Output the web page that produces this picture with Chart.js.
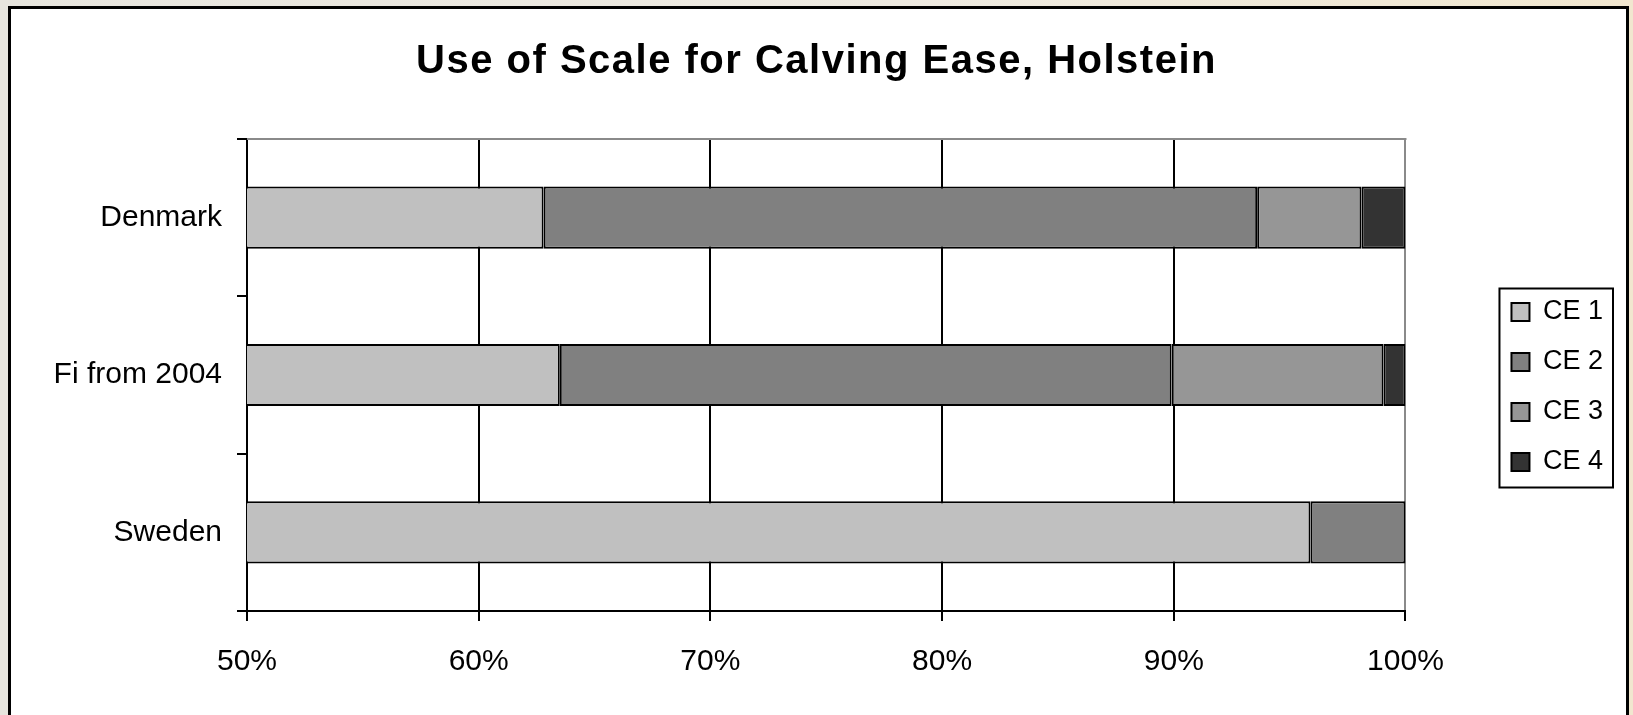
<!DOCTYPE html>
<html>
<head>
<meta charset="utf-8">
<title>Use of Scale for Calving Ease, Holstein</title>
<script src="https://cdn.jsdelivr.net/npm/chart.js@4.4.1/dist/chart.umd.min.js"></script>
<style>
    html, body { margin: 0; padding: 0; overflow: hidden; }
    body {
        width: 1633px;
        height: 715px;
        position: relative;
        background: linear-gradient(to right, #e7e5de, #eeeae1 55%, #f1e7cf);
    }
    .frame {
        position: absolute;
        left: 8px;
        top: 6px;
        width: 1621px;
        height: 780px;
        box-sizing: border-box;
        border: 3px solid #000;
        background: #fff;
    }
    .holder { position: absolute; left: 0; top: 0; width: 1633px; height: 715px; }
</style>
</head>
<body>
<div class="frame"></div>
<div class="holder"><canvas id="calvingChart"></canvas></div>
<script>
const countries = ['Denmark', 'Fi from 2004', 'Sweden'];
const seriesNames = ['CE 1', 'CE 2', 'CE 3', 'CE 4'];
const ce1 = [62.8, 63.5, 95.9];
const ce2 = [30.8, 26.4, 4.1];
const ce3 = [4.5, 9.15, 0];
const ce4 = [1.9, 0.95, 0];
const percentTicks = [50, 60, 70, 80, 90, 100];

const fills = ['#c0c0c0', '#808080', '#969696', '#333333'];

Chart.defaults.font.family = '"Liberation Sans", Arial, sans-serif';
Chart.defaults.color = '#000';

// grey top edge of the plot area (the right edge is the 100% grid line)
const plotFrame = {
    id: 'plotFrame',
    beforeDatasetsDraw(chart) {
        const { ctx, chartArea } = chart;
        ctx.save();
        ctx.strokeStyle = '#8a8a8a';
        ctx.lineWidth = 2;
        ctx.beginPath();
        ctx.moveTo(chartArea.left, chartArea.top);
        ctx.lineTo(chartArea.right + 1, chartArea.top);
        ctx.stroke();
        ctx.restore();
    }
};

// box around the legend items
const legendBorder = {
    id: 'legendBorder',
    afterDraw(chart) {
        const boxes = chart.legend && chart.legend.legendHitBoxes;
        if (!boxes || !boxes.length) return;
        const left = Math.min(...boxes.map(b => b.left)) - 12;
        const right = Math.max(...boxes.map(b => b.left + b.width)) + 10;
        const top = Math.min(...boxes.map(b => b.top)) - 10;
        const bottom = Math.max(...boxes.map(b => b.top + b.height)) + 12;
        const ctx = chart.ctx;
        ctx.save();
        ctx.strokeStyle = '#000';
        ctx.lineWidth = 2;
        ctx.strokeRect(left, top, right - left, bottom - top);
        ctx.restore();
    }
};

// slightly spaced-out letters for the title
const titleSpacing = {
    id: 'titleSpacing',
    afterInit(chart) {
        const block = chart.titleBlock;
        if (!block) return;
        const draw = block.draw;
        block.draw = function (area) {
            chart.ctx.letterSpacing = '1.5px';
            draw.call(this, area);
            chart.ctx.letterSpacing = '0px';
        };
    }
};

const series = [ce1, ce2, ce3, ce4];

new Chart(document.getElementById('calvingChart'), {
    type: 'bar',
    data: {
        labels: countries,
        datasets: series.map((values, i) => ({
            label: seriesNames[i],
            data: values,
            backgroundColor: fills[i],
            borderColor: '#000',
            borderWidth: 2,
            borderSkipped: false
        }))
    },
    options: {
        indexAxis: 'y',
        responsive: true,
        maintainAspectRatio: false,
        animation: false,
        layout: { padding: { left: 20, right: 20, top: 0, bottom: 12 } },
        datasets: {
            bar: { barPercentage: 0.395, categoryPercentage: 1 }
        },
        scales: {
            x: {
                stacked: true,
                min: percentTicks[0],
                max: percentTicks[percentTicks.length - 1],
                afterBuildTicks: scale => {
                    scale.ticks = percentTicks.map(v => ({ value: v }));
                },
                grid: {
                    color: ctx => (ctx.tick && ctx.tick.value === 100 ? '#8a8a8a' : '#000'),
                    tickColor: '#000',
                    lineWidth: 2,
                    tickLength: 10
                },
                border: { color: '#000', width: 2 },
                ticks: {
                    color: '#000',
                    padding: 23,
                    font: { size: 30 },
                    callback: v => v + '%'
                }
            },
            y: {
                stacked: true,
                grid: {
                    offset: true,
                    drawOnChartArea: false,
                    color: '#000',
                    lineWidth: 2,
                    tickLength: 10
                },
                border: { color: '#000', width: 2 },
                ticks: { color: '#000', padding: 15, font: { size: 30 } },
                afterFit: scale => { scale.width = 227; }
            },
            // empty axis that keeps the legend away from the plot
            gap: {
                type: 'category',
                position: 'right',
                labels: [],
                grid: { display: false },
                border: { display: false },
                ticks: { display: false },
                afterFit: scale => { scale.width = 83; }
            }
        },
        plugins: {
            title: {
                display: true,
                text: 'Use of Scale for Calving Ease, Holstein',
                color: '#000',
                font: { size: 40, weight: 'bold' },
                padding: { top: 38, bottom: 53 }
            },
            legend: {
                position: 'right',
                fullSize: false,
                title: {
                    display: true,
                    text: ' ',
                    font: { size: 10 },
                    padding: { top: 6, bottom: 6 }
                },
                labels: {
                    boxWidth: 18,
                    boxHeight: 18,
                    padding: 23,
                    color: '#000',
                    font: { size: 27 }
                }
            },
            tooltip: { enabled: false }
        }
    },
    plugins: [plotFrame, legendBorder, titleSpacing]
});
</script>
</body>
</html>
